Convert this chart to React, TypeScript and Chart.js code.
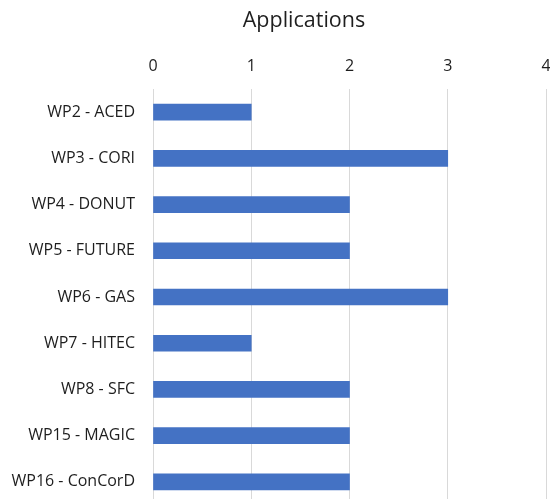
import React, { useEffect, useRef } from "react";
import { Chart, registerables } from "chart.js";

Chart.register(...registerables);

const titleText = "Applications";
const categories = [
  "WP2 - ACED",
  "WP3 - CORI",
  "WP4 - DONUT",
  "WP5 - FUTURE",
  "WP6 - GAS",
  "WP7 - HITEC",
  "WP8 - SFC",
  "WP15 - MAGIC",
  "WP16 - ConCorD",
];
const applications = [1, 3, 2, 2, 3, 1, 2, 2, 2];
const xTicks = [0, 1, 2, 3, 4];

const FONT = "'Open Sans', 'Liberation Sans', sans-serif";
const TEXT = "#1e1e1e";

const titlePlugin = {
  id: "customTitle",
  afterDraw(chart: any) {
    const ctx = chart.ctx;
    ctx.save();
    ctx.font = `21.5px ${FONT}`;
    ctx.fillStyle = TEXT;
    ctx.textAlign = "center";
    ctx.textBaseline = "middle";
    ctx.fillText(titleText, 304, 21);
    ctx.restore();
  },
};

export default function App() {
  const ref = useRef<HTMLCanvasElement | null>(null);
  useEffect(() => {
    if (!ref.current) return;
    const chart = new Chart(ref.current, {
      type: "bar",
      data: {
        labels: categories,
        datasets: [
          {
            label: titleText,
            data: applications,
            backgroundColor: "#4472C4",
            borderWidth: 0,
            barThickness: 16,
          },
        ],
      },
      plugins: [titlePlugin],
      options: {
        indexAxis: "y",
        animation: false,
        responsive: false,
        layout: { padding: { left: 0, right: 0, top: 43, bottom: 5 } },
        plugins: {
          legend: { display: false },
          tooltip: { enabled: false },
          title: { display: false },
        },
        scales: {
          x: {
            position: "top",
            min: xTicks[0],
            max: xTicks[xTicks.length - 1],
            afterBuildTicks: (scale: any) => {
              scale.ticks = xTicks.map((v) => ({ value: v }));
            },
            afterFit: (scale: any) => {
              scale.height = 46;
              scale.paddingLeft = 0;
              scale.paddingRight = 4;
            },
            ticks: {
              color: TEXT,
              font: { family: FONT, size: 16 },
              padding: 13,
            },
            grid: { color: "#d9d9d9", drawTicks: false },
            border: { display: false },
          },
          y: {
            afterFit: (scale: any) => {
              scale.width = 153;
              scale.paddingTop = 0;
              scale.paddingBottom = 0;
            },
            ticks: {
              color: TEXT,
              font: { family: FONT, size: 16 },
              padding: 18,
            },
            grid: { display: false, drawTicks: false },
            border: { display: false },
          },
        },
      },
    });
    return () => chart.destroy();
  }, []);
  return (
    <div
      style={{
        position: "fixed",
        left: 0,
        top: 0,
        width: 550,
        height: 499,
        overflow: "hidden",
        background: "#fff",
      }}
    >
      <canvas ref={ref} width={550} height={510} style={{ display: "block" }} />
    </div>
  );
}
